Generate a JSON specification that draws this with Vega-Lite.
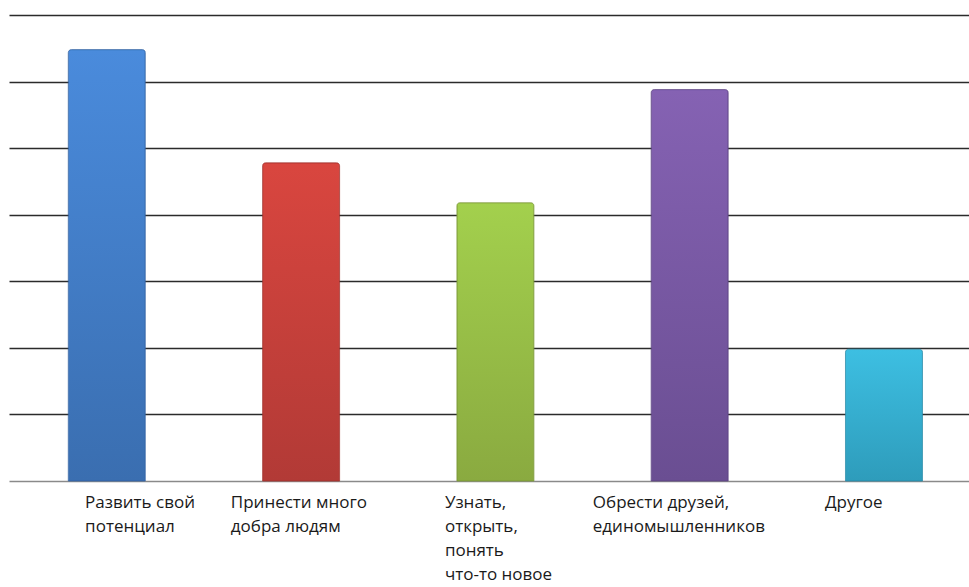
{
  "$schema": "https://vega.github.io/schema/vega-lite/v6.json",
  "width": 960,
  "height": 466,
  "autosize": {"type": "none"},
  "padding": {"left": 9, "top": 15, "right": 0, "bottom": 106},
  "background": "white",
  "config": {"view": {"stroke": null}, "font": "Open Sans"},
  "data": {"values": [
    {"cat": "Развить свой|потенциал", "v": 32.4},
    {"cat": "Принести много|добра людям", "v": 23.9},
    {"cat": "Узнать,|открыть,|понять|что-то новое", "v": 20.9},
    {"cat": "Обрести друзей,|единомышленников", "v": 29.4},
    {"cat": "Другое", "v": 9.9}
  ]},
  "encoding": {
    "x": {"field": "cat", "type": "nominal", "sort": null,
      "scale": {"paddingInner": 0.6037, "paddingOuter": 0.2723, "align": 0.5605},
      "axis": {"title": null, "labelAngle": 0, "ticks": false, "domainColor": "#8a8a8a", "domainWidth": 1.5,
        "labelExpr": "split(datum.label, '|')", "labelLineHeight": 24.3, "labelFontSize": 17, "labelColor": "#1a1a1a",
        "labelAlign": "left", "labelBaseline": "top", "labelPadding": 13, "labelLimit": 400,
        "labelOffset": {"condition": [
          {"test": "indexof(datum.value, 'Развить') == 0", "value": -21.7},
          {"test": "indexof(datum.value, 'Принести') == 0", "value": -70.3},
          {"test": "indexof(datum.value, 'Узнать') == 0", "value": -50.5},
          {"test": "indexof(datum.value, 'Обрести') == 0", "value": -96.9}
        ], "value": -59}}},
    "y": {"field": "v", "type": "quantitative",
      "scale": {"domain": [0, 35], "nice": false},
      "axis": {"title": null, "labels": false, "ticks": false, "domain": false,
        "values": [5, 10, 15, 20, 25, 30, 35], "gridColor": "#2b2b2b", "gridWidth": 1.5}}
  },
  "layer": [
    {"transform": [{"filter": "indexof(datum.cat, 'Развить') == 0"}],
     "mark": {"type": "bar", "cornerRadiusTopLeft": 3, "cornerRadiusTopRight": 3, "stroke": "#3566a6", "strokeWidth": 0.8,
       "color": {"gradient": "linear", "x1": 0, "y1": 0, "x2": 0, "y2": 1, "stops": [{"offset": 0, "color": "#4a8bdc"}, {"offset": 1, "color": "#3a6eb0"}]}}},
    {"transform": [{"filter": "indexof(datum.cat, 'Принести') == 0"}],
     "mark": {"type": "bar", "cornerRadiusTopLeft": 3, "cornerRadiusTopRight": 3, "stroke": "#a33430", "strokeWidth": 0.8,
       "color": {"gradient": "linear", "x1": 0, "y1": 0, "x2": 0, "y2": 1, "stops": [{"offset": 0, "color": "#d9463f"}, {"offset": 1, "color": "#b23a36"}]}}},
    {"transform": [{"filter": "indexof(datum.cat, 'Узнать') == 0"}],
     "mark": {"type": "bar", "cornerRadiusTopLeft": 3, "cornerRadiusTopRight": 3, "stroke": "#7f9c3a", "strokeWidth": 0.8,
       "color": {"gradient": "linear", "x1": 0, "y1": 0, "x2": 0, "y2": 1, "stops": [{"offset": 0, "color": "#a3d04d"}, {"offset": 1, "color": "#8aaa40"}]}}},
    {"transform": [{"filter": "indexof(datum.cat, 'Обрести') == 0"}],
     "mark": {"type": "bar", "cornerRadiusTopLeft": 3, "cornerRadiusTopRight": 3, "stroke": "#5f4686", "strokeWidth": 0.8,
       "color": {"gradient": "linear", "x1": 0, "y1": 0, "x2": 0, "y2": 1, "stops": [{"offset": 0, "color": "#8562b3"}, {"offset": 1, "color": "#6a4e92"}]}}},
    {"transform": [{"filter": "indexof(datum.cat, 'Другое') == 0"}],
     "mark": {"type": "bar", "cornerRadiusTopLeft": 3, "cornerRadiusTopRight": 3, "stroke": "#2b8eab", "strokeWidth": 0.8,
       "color": {"gradient": "linear", "x1": 0, "y1": 0, "x2": 0, "y2": 1, "stops": [{"offset": 0, "color": "#3dbfe2"}, {"offset": 1, "color": "#2e9cbb"}]}}}
  ]
}
